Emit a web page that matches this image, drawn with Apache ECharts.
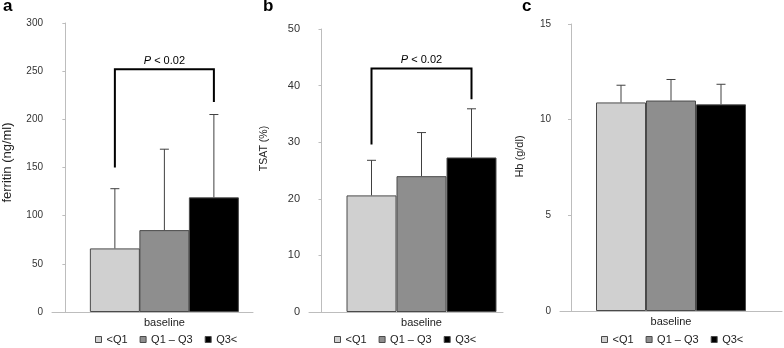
<!DOCTYPE html>
<html>
<head>
<meta charset="utf-8">
<script src="https://cdn.jsdelivr.net/npm/echarts@6/dist/echarts.min.js"></script>
<style>
  html, body { margin: 0; padding: 0; background: #fff; }
  #main { width: 784px; height: 348px; }
</style>
</head>
<body>
<div id="main"></div>
<script>
// groups (quartiles of baseline ferritin)
var groups = ["<Q1", "Q1 – Q3", "Q3<"];
var groupColors = ["#d0d0d0", "#8e8e8e", "#000000"];

// panel a: ferritin, mean and SD
var ferritinMean = [66, 85, 119];
var ferritinSD = [62, 84, 86];
// panel b: TSAT, mean and SD
var tsatMean = [20.6, 24.0, 27.3];
var tsatSD = [6.2, 7.7, 8.6];
// panel c: Hb, mean and SD
var hbMean = [10.9, 11.0, 10.8];
var hbSD = [0.9, 1.1, 1.05];

// significance brackets: [left leg end, bracket top, right leg end]
var ferritinBracket = [150, 252, 218];
var tsatBracket = [29.6, 43, 37.6];
var pLabel = "P < 0.02";

var panelLetters = ["a", "b", "c"];
var axisNames = ["ferritin (ng/ml)", "TSAT (%)", "Hb (g/dl)"];
var axisMax = [300, 50, 15];
var axisInterval = [50, 10, 5];

var chart = echarts.init(document.getElementById("main"));

var font = "Liberation Sans, Arial, sans-serif";
var axisGrey = "#bdbdbd";

// layout of each panel (pixel boxes, label sizes)
var panels = [
  { mean: ferritinMean, sd: ferritinSD, bracket: ferritinBracket,
    grid: { left: 50, top: 23, width: 203, height: 289 }, xMin: -0.27, xMax: 3.79,
    nameGap: 38, nameSize: 13, nameShift: 10, tickSize: 10, legendLeft: 95, titleLeft: 3 },
  { mean: tsatMean, sd: tsatSD, bracket: tsatBracket,
    grid: { left: 309, top: 29, width: 194, height: 283 }, xMin: -0.25, xMax: 3.63,
    nameGap: 39, nameSize: 10.5, nameShift: 44, tickSize: 11, legendLeft: 334, titleLeft: 263 },
  { mean: hbMean, sd: hbSD, bracket: null,
    grid: { left: 560, top: 24, width: 222, height: 287 }, xMin: -0.22, xMax: 4.22,
    nameGap: 35, nameSize: 11, nameShift: 22, tickSize: 10, legendLeft: 601, titleLeft: 522 }
];

function errorBars(params, api) {
  var top = api.coord([api.value(0), api.value(2)]);
  var base = api.coord([api.value(0), api.value(1)]);
  var style = { stroke: "#404040", lineWidth: 1 };
  return {
    type: "group",
    children: [
      { type: "line", shape: { x1: base[0], y1: base[1], x2: top[0], y2: top[1] }, style: style },
      { type: "line", shape: { x1: top[0] - 4.5, y1: top[1], x2: top[0] + 4.5, y2: top[1] }, style: style }
    ]
  };
}

function bracket(params, api) {
  var x1 = api.value(0), x2 = api.value(1);
  var pLeft = api.coord([x1, api.value(2)]);
  var pTopL = api.coord([x1, api.value(3)]);
  var pTopR = api.coord([x2, api.value(3)]);
  var pRight = api.coord([x2, api.value(4)]);
  return {
    type: "group",
    children: [
      { type: "polyline",
        shape: { points: [pLeft, pTopL, pTopR, pRight] },
        style: { stroke: "#000", lineWidth: 2, fill: null } },
      { type: "text",
        x: (pTopL[0] + pTopR[0]) / 2, y: pTopL[1] - 3,
        style: {
          text: "{i|P}" + pLabel.slice(1),
          align: "center", verticalAlign: "bottom",
          fontFamily: font, fontSize: 11, fill: "#000",
          rich: { i: { fontStyle: "italic", fontFamily: font, fontSize: 11, fill: "#000" } }
        } }
    ]
  };
}

var grids = [], xAxes = [], yAxes = [], series = [], legends = [], titles = [];

panels.forEach(function (p, k) {
  grids.push(p.grid);
  xAxes.push({
    type: "value",
    gridIndex: k,
    min: p.xMin,
    max: p.xMax,
    axisLine: { show: true, onZero: false, lineStyle: { color: axisGrey, width: 1 } },
    axisTick: { show: false },
    splitLine: { show: false },
    axisLabel: {
      customValues: [2],
      formatter: function () { return "baseline"; },
      color: "#222", fontSize: 11, fontFamily: font, margin: 5
    }
  });
  yAxes.push({
    type: "value",
    gridIndex: k,
    min: 0,
    max: axisMax[k],
    interval: axisInterval[k],
    name: axisNames[k],
    nameLocation: "middle",
    nameGap: p.nameGap,
    nameTextStyle: { color: "#222", fontSize: p.nameSize, fontFamily: font, padding: [0, 0, 0, p.nameShift] },
    axisLine: { show: true, lineStyle: { color: axisGrey, width: 1 } },
    axisTick: { show: true, length: 3, lineStyle: { color: axisGrey } },
    splitLine: { show: false },
    axisLabel: { color: "#333", fontSize: p.tickSize, fontFamily: font, margin: 9 }
  });

  groups.forEach(function (g, i) {
    series.push({
      type: "bar",
      name: g,
      xAxisIndex: k,
      yAxisIndex: k,
      barWidth: 50,
      barGap: "-100%",
      data: [[i + 1, p.mean[i]]],
      itemStyle: { color: groupColors[i], borderColor: "#4a4a4a", borderWidth: 1 },
      emphasis: { disabled: true }
    });
  });

  series.push({
    type: "custom",
    xAxisIndex: k,
    yAxisIndex: k,
    z: 5,
    renderItem: errorBars,
    data: p.mean.map(function (m, i) { return [i + 1, m, m + p.sd[i]]; })
  });

  if (p.bracket) {
    series.push({
      type: "custom",
      xAxisIndex: k,
      yAxisIndex: k,
      z: 6,
      renderItem: bracket,
      data: [[1, 3, p.bracket[0], p.bracket[1], p.bracket[2]]]
    });
  }

  legends.push({
    data: groups,
    left: p.legendLeft,
    top: 334,
    padding: 0,
    icon: "rect",
    itemWidth: 6,
    itemHeight: 6,
    itemGap: 12,
    selectedMode: false,
    itemStyle: { borderColor: "#4a4a4a", borderWidth: 1 },
    textStyle: { color: "#222", fontSize: 11, fontFamily: font, padding: [0, 0, 0, 0] }
  });

  titles.push({
    text: panelLetters[k],
    left: p.titleLeft,
    top: -2,
    padding: 0,
    textStyle: { fontSize: 17, fontWeight: "bold", color: "#000", fontFamily: font }
  });
});

var option = {
  animation: false,
  backgroundColor: "#fff",
  title: titles,
  legend: legends,
  grid: grids,
  xAxis: xAxes,
  yAxis: yAxes,
  series: series
};

chart.setOption(option);
</script>
</body>
</html>
